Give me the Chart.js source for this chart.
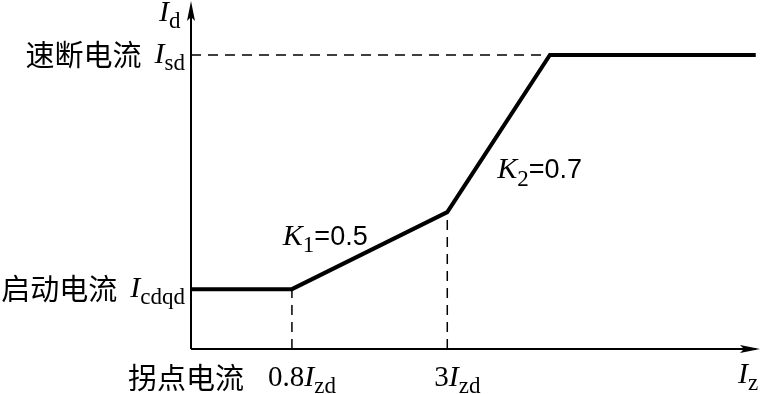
<!DOCTYPE html>
<html>
<head>
<meta charset="utf-8">
<script src="https://cdn.jsdelivr.net/npm/chart.js@4"></script>
<style>
  html, body { margin: 0; padding: 0; background: #fff; }
  #wrap { width: 760px; height: 394px; }
</style>
</head>
<body>
<div id="wrap"><canvas id="chart" width="760" height="394"></canvas></div>
<script>
// characteristic curve, arbitrary units (axes 0..10)
const curveX = [0, 1.78, 4.52, 6.33, 9.96];
const curveY = [1.74, 1.74, 3.98, 8.55, 8.55];

// dashed guide lines
const guideTop = { x: [0, 6.33], y: [8.55, 8.55] };
const guideA = { x: [1.78, 1.78], y: [0, 1.74] };
const guideB = { x: [4.52, 4.52], y: [0, 3.98] };

// axis tick labels
const xTickPos = [1.78, 4.52];
const xTickMain = ["0.8", "3"];
const xTickSub = ["zd", "zd"];
const yTickPos = [8.55, 1.74];
const yTickCn = ["速断电流", "启动电流"];
const yTickSub = ["sd", "cdqd"];

// slope annotations
const slopeNames = ["1", "2"];
const slopeValues = ["0.5", "0.7"];
const slopeAt = [{ x: 1.62, y: 3.25 }, { x: 5.4, y: 5.19 }];

const CN = '29px "Noto Sans CJK SC"';
const IT = 'italic 30px "Liberation Serif"';
const RM = '29px "Liberation Serif"';
const SUB = '23px "Liberation Serif"';
const EQ = '27px "Liberation Sans"';

function pts(xs, ys) {
    return xs.map((x, i) => ({ x: x, y: ys[i] }));
}

// draws pieces left to right: [text, font, dy]
function drawRun(ctx, x, y, pieces, align) {
    let total = 0;
    pieces.forEach(p => { ctx.font = p[1]; total += ctx.measureText(p[0]).width; });
    let cx = align === "right" ? x - total : (align === "center" ? x - total / 2 : x);
    pieces.forEach(p => {
        ctx.font = p[1];
        ctx.fillText(p[0], cx, y + (p[2] || 0));
        cx += ctx.measureText(p[0]).width;
    });
}

const axesPlugin = {
    id: "axesPlugin",
    afterDraw(chart) {
        const ctx = chart.ctx;
        const a = chart.chartArea;
        const xs = chart.scales.x, ys = chart.scales.y;
        const ox = xs.getPixelForValue(0), oy = ys.getPixelForValue(0);
        ctx.save();
        ctx.strokeStyle = "#000";
        ctx.fillStyle = "#000";
        ctx.lineWidth = 2;
        ctx.beginPath();
        ctx.moveTo(ox, oy);
        ctx.lineTo(ox, a.top + 4);
        ctx.moveTo(ox, oy);
        ctx.lineTo(a.right - 2, oy);
        ctx.stroke();
        // arrow heads
        ctx.beginPath();
        ctx.moveTo(ox, a.top - 4);
        ctx.lineTo(ox - 4, a.top + 16);
        ctx.lineTo(ox, a.top + 12);
        ctx.lineTo(ox + 4, a.top + 16);
        ctx.closePath();
        ctx.fill();
        ctx.beginPath();
        ctx.moveTo(a.right + 2, oy);
        ctx.lineTo(a.right - 18, oy - 4);
        ctx.lineTo(a.right - 14, oy);
        ctx.lineTo(a.right - 18, oy + 4);
        ctx.closePath();
        ctx.fill();

        ctx.textBaseline = "middle";
        // y labels
        yTickPos.forEach((v, i) => {
            const py = ys.getPixelForValue(v);
            drawRun(ctx, ox - 6, py, [[yTickCn[i] + "  ", CN, 0], ["I", IT, 0], [yTickSub[i], SUB, 9]], "right");
        });
        // x labels
        xTickPos.forEach((v, i) => {
            const px = xs.getPixelForValue(v);
            drawRun(ctx, px + 10, oy + 29, [[xTickMain[i], RM, 0], ["I", IT, 0], [xTickSub[i], SUB, 9]], "center");
        });
        ctx.font = CN;
        ctx.textAlign = "left";
        ctx.fillText("拐点电流", 128, oy + 29);
        // axis names
        drawRun(ctx, a.right - 20, oy + 26, [["I", IT, 0], ["z", SUB, 9]], "left");
        drawRun(ctx, ox - 32, a.top + 8, [["I", IT, 0], ["d", SUB, 9]], "left");
        // slopes
        slopeAt.forEach((p, i) => {
            drawRun(ctx, xs.getPixelForValue(p.x), ys.getPixelForValue(p.y),
                [["K", IT, 0], [slopeNames[i], SUB, 9], ["=" + slopeValues[i], EQ, 0]], "left");
        });
        ctx.restore();
    }
};

const dashed = { borderColor: "#000", borderWidth: 1.5, borderDash: [10, 7], pointRadius: 0, showLine: true, fill: false };

new Chart(document.getElementById("chart"), {
    type: "scatter",
    data: {
        datasets: [
            Object.assign({ data: pts(guideTop.x, guideTop.y) }, dashed),
            Object.assign({ data: pts(guideA.x, guideA.y) }, dashed),
            Object.assign({ data: pts(guideB.x, guideB.y) }, dashed),
            {
                data: pts(curveX, curveY),
                borderColor: "#000",
                borderWidth: 4,
                borderJoinStyle: "miter",
                pointRadius: 0,
                showLine: true,
                fill: false
            }
        ]
    },
    options: {
        responsive: false,
        animation: false,
        layout: { padding: { left: 191, right: 2, top: 5, bottom: 45 } },
        plugins: { legend: { display: false }, tooltip: { enabled: false } },
        scales: {
            x: { type: "linear", min: 0, max: 10, display: false },
            y: { type: "linear", min: 0, max: 10, display: false }
        }
    },
    plugins: [axesPlugin]
});
</script>
</body>
</html>
